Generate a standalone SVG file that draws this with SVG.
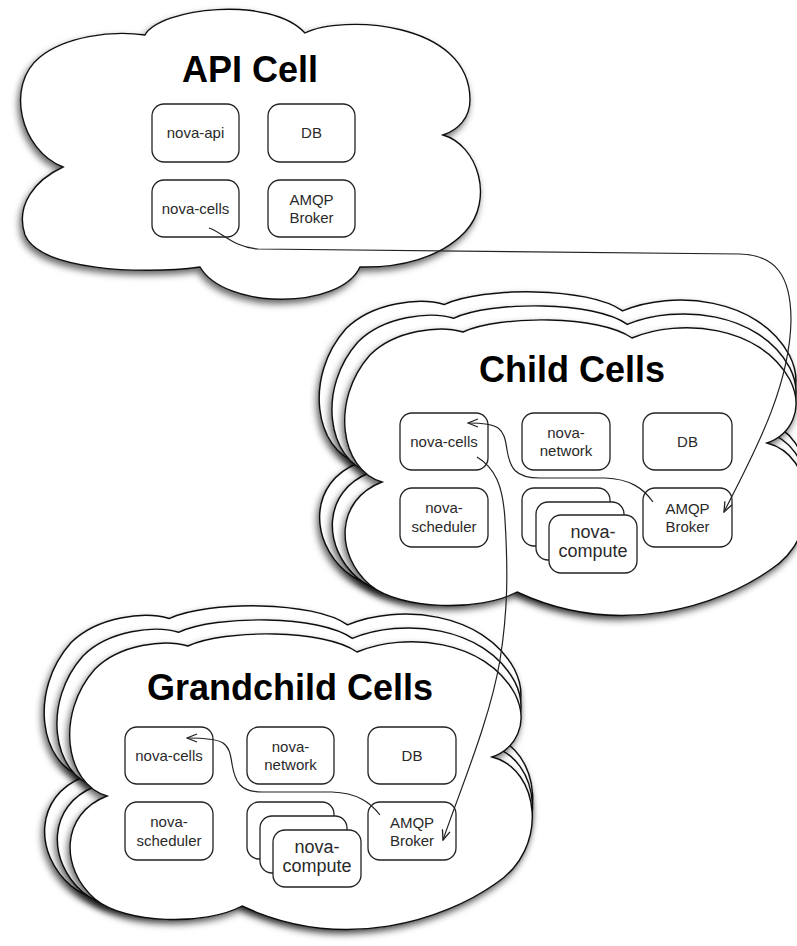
<svg xmlns="http://www.w3.org/2000/svg" xmlns:xlink="http://www.w3.org/1999/xlink" width="797" height="946" viewBox="0 0 797 946">
<style>
.cloud{fill:#fff;stroke:#111;stroke-width:1.4;filter:url(#sh)}
.box{fill:#fff;stroke:#222;stroke-width:1.3}
.t{font-family:"Liberation Sans",Arial,Helvetica,sans-serif;font-size:15px;fill:#2a2a2a;text-anchor:middle}
.big{font-size:18px}
.title{font-family:"Liberation Sans",Arial,Helvetica,sans-serif;font-weight:bold;font-size:36px;fill:#000;text-anchor:middle}
.conn{fill:none;stroke:#222;stroke-width:1.2;marker-end:url(#arr)}
</style>
<defs>
<filter id="sh" x="-20%" y="-20%" width="140%" height="140%">
<feDropShadow dx="-2" dy="4" stdDeviation="3.5" flood-color="#000" flood-opacity="0.6"/>
</filter>
<marker id="arr" viewBox="0 0 12 10" refX="11" refY="5" markerWidth="12" markerHeight="10" markerUnits="userSpaceOnUse" orient="auto">
<path d="M1,1 L11,5 L1,9" fill="none" stroke="#222" stroke-width="1.3"/>
</marker>
<path id="cloudC" d="M463,332 C500,315 600,315 632,338 C680,318 760,325 790,380 C805,410 790,435 767,443 C815,455 825,535 770,570 C720,605 620,640 517,592 C480,612 400,610 370,585 C335,555 335,500 382,482 C340,470 330,400 370,355 C395,330 440,325 463,332 Z"/>
</defs>
<rect width="797" height="946" fill="#fff"/>

<g id="api-cell">
<path class="cloud" d="M145,35 C160,8 270,-5 305,33 C340,15 470,20 470,100 C470,118 458,130 443,135 C478,145 495,200 465,232 C440,258 400,268 360,267 C340,310 225,310 200,267 C140,275 40,270 25,235 C15,205 35,180 63,167 C20,150 5,85 40,57 C65,37 110,30 145,35 Z"/>
<text class="title" x="250" y="82">API Cell</text>
</g>
<g id="api-nova-api"><rect class="box" x="152" y="104" width="87" height="58" rx="12"/><text class="t" x="195.5" y="138">nova-api</text></g>
<g id="api-db"><rect class="box" x="268" y="104" width="87" height="58" rx="12"/><text class="t" x="311.5" y="138">DB</text></g>
<g id="api-nova-cells"><rect class="box" x="152" y="180" width="87" height="57" rx="12"/><text class="t" x="195.5" y="214">nova-cells</text></g>
<g id="api-amqp"><rect class="box" x="268" y="180" width="87" height="57" rx="12"/><text class="t" x="311.5" y="205">AMQP</text><text class="t" x="311.5" y="223">Broker</text></g>

<g id="child-cells">
<use xlink:href="#cloudC" href="#cloudC" class="cloud" transform="translate(800,822) scale(1.056) translate(-800,-822)"/>
<use xlink:href="#cloudC" href="#cloudC" class="cloud" transform="translate(800,822) scale(1.028) translate(-800,-822)"/>
<use xlink:href="#cloudC" href="#cloudC" class="cloud"/>
<text class="title" x="572" y="382">Child Cells</text>
</g>
<g id="child-nova-cells"><rect class="box" x="400" y="413" width="88" height="57" rx="12"/><text class="t" x="444" y="446.5">nova-cells</text></g>
<g id="child-nova-network"><rect class="box" x="522" y="413" width="88" height="57" rx="12"/><text class="t" x="566" y="437.5">nova-</text><text class="t" x="566" y="456">network</text></g>
<g id="child-db"><rect class="box" x="643" y="413" width="89" height="57" rx="12"/><text class="t" x="687.5" y="446.5">DB</text></g>
<g id="child-nova-scheduler"><rect class="box" x="400" y="488" width="88" height="59" rx="12"/><text class="t" x="444" y="513">nova-</text><text class="t" x="444" y="531.5">scheduler</text></g>
<g id="child-amqp"><rect class="box" x="643" y="488" width="89" height="59" rx="12"/><text class="t" x="687.5" y="514">AMQP</text><text class="t" x="687.5" y="532">Broker</text></g>
<g id="child-nova-compute">
<rect class="box" x="522" y="488" width="88" height="58" rx="12"/>
<rect class="box" x="536" y="502" width="88" height="58" rx="12"/>
<rect class="box" x="549" y="515" width="88" height="58" rx="12"/>
<text class="t big" x="593" y="538">nova-</text><text class="t big" x="593" y="557">compute</text>
</g>

<g id="grandchild-cells">
<g transform="translate(-275,314)">
<use xlink:href="#cloudC" href="#cloudC" class="cloud" transform="translate(800,822) scale(1.056) translate(-800,-822)"/>
<use xlink:href="#cloudC" href="#cloudC" class="cloud" transform="translate(800,822) scale(1.028) translate(-800,-822)"/>
<use xlink:href="#cloudC" href="#cloudC" class="cloud"/>
</g>
<text class="title" x="290" y="700">Grandchild Cells</text>
</g>
<g id="gc-nova-cells"><rect class="box" x="125" y="727" width="88" height="57" rx="12"/><text class="t" x="169" y="760.5">nova-cells</text></g>
<g id="gc-nova-network"><rect class="box" x="247" y="727" width="87" height="57" rx="12"/><text class="t" x="290.5" y="751.5">nova-</text><text class="t" x="290.5" y="770">network</text></g>
<g id="gc-db"><rect class="box" x="368" y="727" width="88" height="57" rx="12"/><text class="t" x="412" y="760.5">DB</text></g>
<g id="gc-nova-scheduler"><rect class="box" x="125" y="802" width="88" height="58" rx="12"/><text class="t" x="169" y="827">nova-</text><text class="t" x="169" y="845.5">scheduler</text></g>
<g id="gc-amqp"><rect class="box" x="368" y="802" width="88" height="58" rx="12"/><text class="t" x="412" y="828">AMQP</text><text class="t" x="412" y="846">Broker</text></g>
<g id="gc-nova-compute">
<rect class="box" x="247" y="802" width="87" height="57" rx="12"/>
<rect class="box" x="260" y="816" width="87" height="57" rx="12"/>
<rect class="box" x="273" y="830" width="88" height="57" rx="12"/>
<text class="t big" x="317" y="853">nova-</text><text class="t big" x="317" y="872">compute</text>
</g>

<g id="connectors">
<path class="conn" d="M209,228 C222,232 232,247 258,249 L740,254 C775,255 791,275 791,320 C790,390 750,460 724,512"/>
<path class="conn" d="M653,502 C643,488 630,479 605,478 L540,478 C515,478 510,468 507,450 C504,428 500,423 468,423"/>
<path class="conn" d="M477,457 C495,468 503,485 505,520 C508,570 508,610 500,660 C490,720 460,790 443,840"/>
<path class="conn" d="M380,815 C370,802 357,793 332,792 L262,792 C240,792 235,782 232,764 C229,742 225,738 187,738"/>
</g>
</svg>
